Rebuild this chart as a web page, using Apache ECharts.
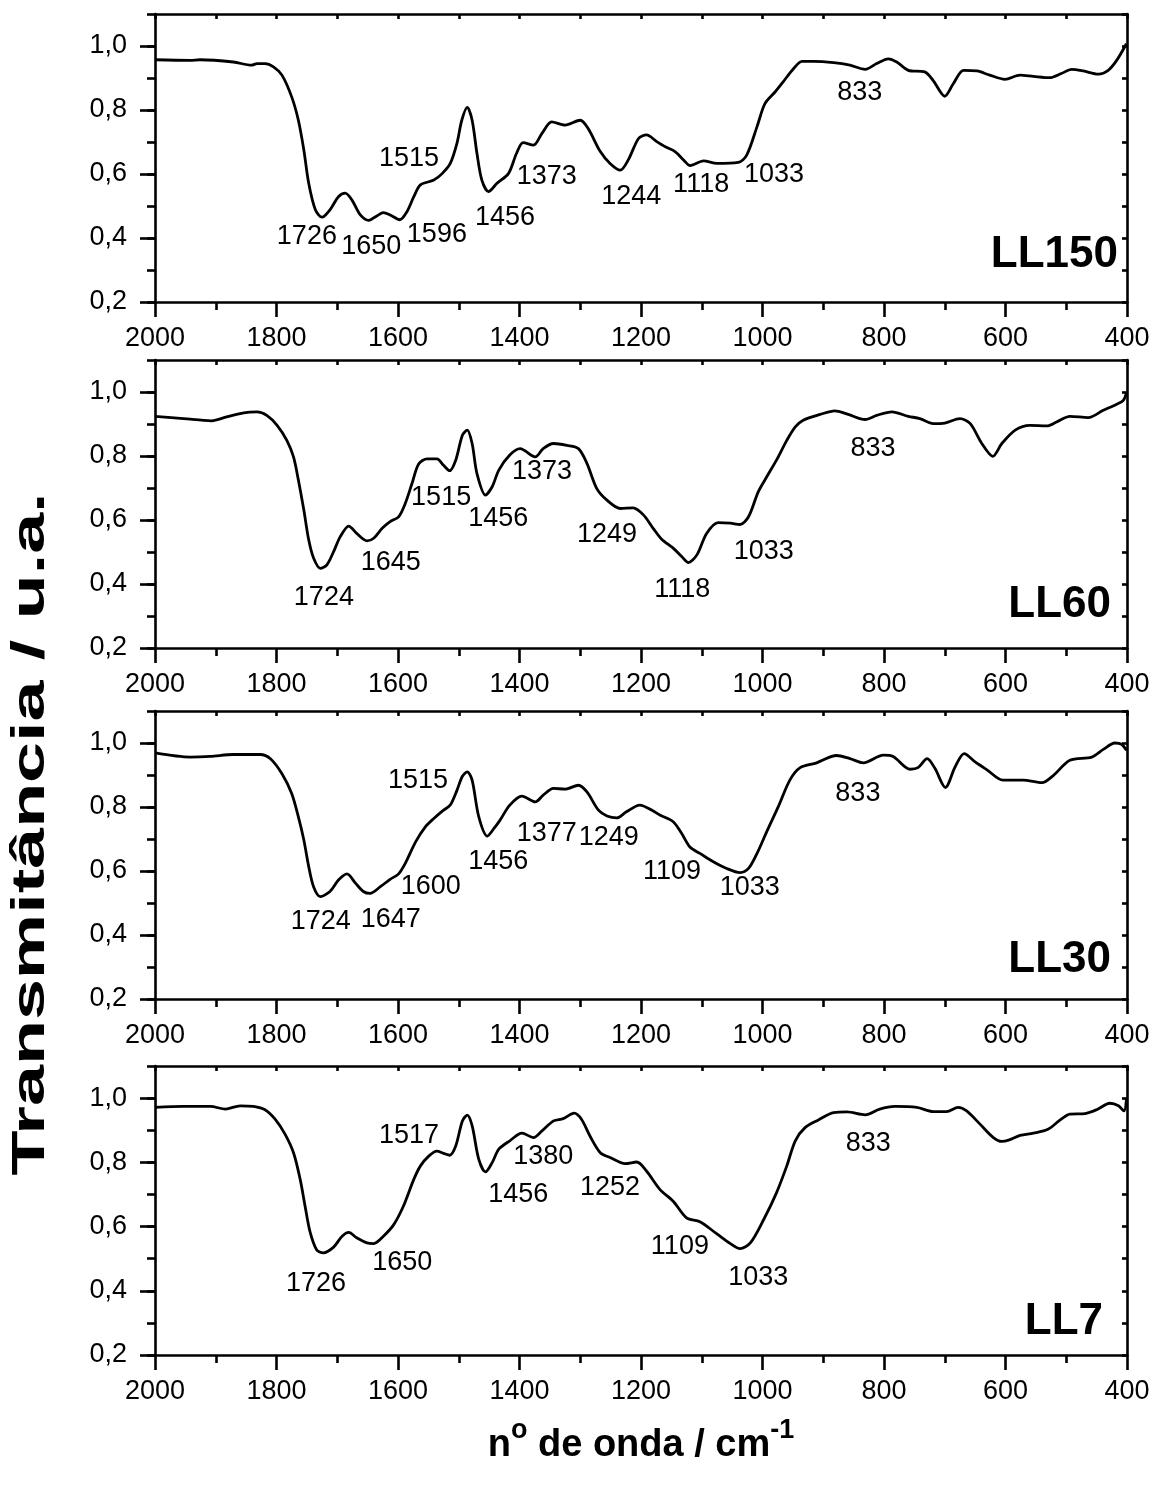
<!DOCTYPE html>
<html><head><meta charset="utf-8">
<script src="https://cdn.jsdelivr.net/npm/echarts@6/dist/echarts.min.js"></script>
<style>html,body{margin:0;padding:0;background:#fff}#c{width:1158px;height:1486px}</style>
</head><body><div id="c"></div>
<script>
// ---- data (wavenumber cm-1, transmittance a.u.) ----
const panelNames = ['LL150', 'LL60', 'LL30', 'LL7'];
const yMajorTicks = [0.2, 0.4, 0.6, 0.8, 1.0];

const LL150 = [[2000,0.957],[1942,0.955],[1926,0.957],[1871,0.950],[1841,0.940],[1832,0.945],[1819,0.945],[1805,0.935],[1791,0.909],[1775,0.841],[1764,0.768],[1755,0.675],[1747,0.571],[1736,0.488],[1725,0.465],[1712,0.488],[1698,0.529],[1687,0.540],[1676,0.519],[1662,0.472],[1648,0.455],[1635,0.469],[1624,0.479],[1613,0.472],[1597,0.457],[1585,0.483],[1574,0.529],[1563,0.566],[1541,0.581],[1527,0.602],[1514,0.633],[1503,0.696],[1495,0.768],[1486,0.808],[1478,0.768],[1470,0.664],[1462,0.581],[1451,0.545],[1437,0.571],[1418,0.602],[1405,0.664],[1394,0.698],[1377,0.690],[1363,0.727],[1347,0.763],[1325,0.753],[1300,0.768],[1287,0.742],[1267,0.670],[1251,0.633],[1234,0.612],[1221,0.644],[1204,0.711],[1191,0.722],[1174,0.701],[1160,0.685],[1144,0.670],[1130,0.644],[1119,0.626],[1097,0.641],[1075,0.633],[1040,0.636],[1026,0.659],[1009,0.748],[996,0.820],[979,0.857],[966,0.888],[949,0.929],[935,0.952],[916,0.952],[883,0.948],[856,0.940],[831,0.927],[812,0.945],[793,0.960],[779,0.950],[760,0.924],[733,0.919],[719,0.892],[700,0.843],[686,0.882],[669,0.924],[647,0.922],[626,0.909],[601,0.896],[576,0.909],[554,0.905],[527,0.901],[508,0.914],[491,0.927],[472,0.922],[447,0.912],[431,0.924],[417,0.955],[401,1.007]];

const LL60 = [[2000,0.924],[1953,0.917],[1907,0.910],[1882,0.922],[1854,0.935],[1832,0.938],[1816,0.927],[1799,0.896],[1783,0.849],[1772,0.797],[1764,0.725],[1755,0.631],[1747,0.538],[1739,0.481],[1728,0.449],[1717,0.460],[1706,0.501],[1695,0.548],[1681,0.581],[1668,0.558],[1651,0.535],[1640,0.543],[1626,0.574],[1613,0.595],[1599,0.610],[1588,0.652],[1577,0.714],[1566,0.775],[1552,0.791],[1536,0.791],[1525,0.771],[1515,0.754],[1505,0.787],[1494,0.865],[1486,0.881],[1478,0.839],[1470,0.745],[1456,0.678],[1445,0.704],[1434,0.756],[1416,0.803],[1399,0.823],[1374,0.797],[1361,0.823],[1344,0.839],[1322,0.833],[1303,0.823],[1289,0.777],[1273,0.699],[1256,0.662],[1234,0.636],[1213,0.638],[1196,0.616],[1180,0.574],[1166,0.540],[1147,0.512],[1133,0.486],[1122,0.467],[1108,0.491],[1092,0.558],[1073,0.592],[1053,0.590],[1037,0.586],[1023,0.610],[1007,0.688],[993,0.735],[977,0.787],[960,0.849],[946,0.891],[933,0.912],[905,0.930],[881,0.941],[859,0.930],[831,0.914],[812,0.927],[787,0.938],[760,0.924],[741,0.917],[719,0.901],[700,0.903],[675,0.917],[658,0.901],[639,0.839],[621,0.799],[606,0.839],[584,0.881],[560,0.896],[532,0.894],[516,0.906],[494,0.924],[464,0.920],[439,0.943],[417,0.962],[406,0.974],[401,0.997]];

const LL30 = [[2000,0.969],[1942,0.956],[1909,0.958],[1871,0.964],[1827,0.964],[1810,0.951],[1791,0.904],[1775,0.842],[1764,0.769],[1755,0.697],[1747,0.614],[1739,0.551],[1728,0.520],[1712,0.536],[1698,0.572],[1684,0.591],[1670,0.562],[1657,0.536],[1646,0.530],[1629,0.551],[1613,0.574],[1599,0.591],[1588,0.624],[1571,0.691],[1555,0.738],[1541,0.764],[1525,0.790],[1514,0.806],[1503,0.852],[1494,0.896],[1486,0.910],[1478,0.884],[1467,0.769],[1453,0.709],[1442,0.733],[1432,0.759],[1416,0.806],[1396,0.834],[1374,0.816],[1361,0.837],[1344,0.858],[1325,0.856],[1303,0.868],[1289,0.847],[1270,0.790],[1256,0.772],[1240,0.766],[1224,0.785],[1202,0.806],[1182,0.790],[1169,0.775],[1147,0.754],[1133,0.717],[1119,0.674],[1103,0.655],[1081,0.629],[1059,0.608],[1037,0.595],[1023,0.608],[1009,0.655],[993,0.723],[974,0.801],[955,0.884],[938,0.923],[911,0.938],[878,0.961],[856,0.951],[834,0.938],[801,0.962],[785,0.958],[757,0.918],[744,0.923],[729,0.951],[716,0.920],[699,0.861],[683,0.925],[668,0.967],[650,0.941],[631,0.917],[604,0.884],[571,0.884],[540,0.876],[521,0.899],[494,0.946],[458,0.956],[439,0.980],[420,1.000],[409,0.996],[401,0.977]];

const LL7 = [[2000,0.971],[1953,0.974],[1909,0.974],[1884,0.966],[1860,0.976],[1838,0.974],[1819,0.964],[1802,0.934],[1786,0.888],[1772,0.830],[1761,0.747],[1753,0.664],[1745,0.585],[1734,0.528],[1723,0.518],[1706,0.536],[1692,0.570],[1681,0.582],[1668,0.565],[1651,0.549],[1640,0.547],[1624,0.570],[1607,0.606],[1591,0.664],[1574,0.747],[1563,0.789],[1549,0.820],[1536,0.835],[1525,0.828],[1515,0.822],[1505,0.851],[1494,0.929],[1486,0.947],[1478,0.914],[1467,0.809],[1456,0.770],[1445,0.799],[1434,0.841],[1416,0.867],[1396,0.891],[1377,0.877],[1363,0.898],[1344,0.929],[1328,0.936],[1310,0.953],[1298,0.934],[1284,0.882],[1267,0.830],[1251,0.815],[1226,0.796],[1207,0.801],[1191,0.773],[1169,0.716],[1147,0.679],[1125,0.627],[1103,0.615],[1075,0.577],[1053,0.547],[1037,0.531],[1020,0.549],[998,0.622],[977,0.705],[960,0.789],[946,0.867],[930,0.908],[908,0.932],[883,0.955],[861,0.957],[831,0.948],[807,0.966],[782,0.974],[746,0.971],[719,0.958],[697,0.958],[678,0.971],[664,0.960],[642,0.919],[620,0.877],[606,0.865],[595,0.869],[576,0.884],[554,0.891],[530,0.903],[510,0.932],[494,0.950],[469,0.952],[450,0.964],[428,0.984],[414,0.976],[405,0.960],[401,0.997]];

// peak annotations: [text, wavenumber, transmittance] (anchor of the text centre)
const LL150_peaks = [['1726',1750,0.404],['1650',1644,0.372],['1596',1536,0.410],['1515',1582,0.647],['1456',1424,0.463],['1373',1355,0.591],['1244',1216,0.528],['1118',1101,0.566],['1033',981,0.597],['833',840,0.856]];
const LL60_peaks = [['1724',1722,0.357],['1645',1612,0.466],['1515',1529,0.669],['1456',1435,0.606],['1373',1363,0.750],['1249',1256,0.553],['1118',1132,0.382],['1033',998,0.500],['833',818,0.824]];
const LL30_peaks = [['1515',1567,0.884],['1724',1727,0.441],['1647',1612,0.447],['1600',1546,0.550],['1456',1435,0.628],['1377',1355,0.718],['1249',1253,0.703],['1109',1149,0.597],['1033',1021,0.547],['833',843,0.843]];
const LL7_peaks = [['1517',1582,0.883],['1726',1735,0.424],['1650',1593,0.487],['1456',1402,0.699],['1380',1361,0.817],['1252',1251,0.721],['1109',1136,0.537],['1033',1007,0.440],['833',826,0.858]];

const spectra = [LL150, LL60, LL30, LL7];
const peaks = [LL150_peaks, LL60_peaks, LL30_peaks, LL7_peaks];

// ---- layout / style ----
const FONT = '"Liberation Sans", Arial, Helvetica, sans-serif';
const BLACK = '#000';
const tops = [14, 360, 711, 1066];
const heights = [288, 288, 288, 289];
const AXW = 2.6;
const lineStyle = {color: BLACK, width: AXW};

const grid = [], xAxis = [], yAxis = [], series = [], graphic = [];
const fmtY = v => (Math.abs(v - 1.1) < 1e-6 ? '' : v.toFixed(1).replace('.', ','));
const fmtX = v => String(v);

spectra.forEach((data, i) => {
  grid.push({left: 155, right: 31, top: tops[i], height: heights[i], containLabel: false});
  const isLast = i === spectra.length - 1;
  xAxis.push({
    gridIndex: i, type: 'value', min: 400, max: 2000, interval: 200, inverse: true, position: 'bottom',
    axisLine: {show: true, onZero: false, lineStyle},
    axisTick: {show: true, inside: false, length: 15, lineStyle},
    minorTick: {show: true, splitNumber: 2, length: 8, lineStyle},
    axisLabel: {show: true, margin: 23, fontSize: 27, color: BLACK, fontFamily: FONT, formatter: fmtX},
    splitLine: {show: false}, minorSplitLine: {show: false},
    name: isLast ? '{b|n}{s|o}{b| de onda / cm}{s|-1}' : '',
    nameLocation: 'middle', nameGap: 62,
    nameTextStyle: {
      rich: {
        b: {fontSize: 38, fontWeight: 'bold', fontFamily: FONT, color: BLACK, lineHeight: 48, verticalAlign: 'bottom'},
        s: {fontSize: 27, fontWeight: 'bold', fontFamily: FONT, color: BLACK, lineHeight: 48, verticalAlign: 'top'}
      }
    }
  });
  xAxis.push({
    gridIndex: i, type: 'value', min: 400, max: 2000, interval: 100, inverse: true, position: 'top',
    axisLine: {show: true, onZero: false, lineStyle},
    axisTick: {show: true, inside: true, length: 5, lineStyle},
    axisLabel: {show: false}, splitLine: {show: false}
  });
  // left: minor ticks every 0.1
  yAxis.push({
    gridIndex: i, type: 'value', min: 0.2, max: 1.1, interval: 0.1, position: 'left',
    axisLine: {show: true, onZero: false, lineStyle},
    axisTick: {show: true, inside: false, length: 8, lineStyle},
    axisLabel: {show: false}, splitLine: {show: false}
  });
  // left: major ticks + labels
  yAxis.push({
    gridIndex: i, type: 'value', min: 0.2, max: 1.1, interval: 0.2, position: 'left',
    axisLine: {show: false, onZero: false},
    axisTick: {show: true, inside: false, length: 15, lineStyle, customValues: yMajorTicks},
    axisLabel: {show: true, margin: 28, fontSize: 27, color: BLACK, fontFamily: FONT, formatter: fmtY, customValues: yMajorTicks},
    splitLine: {show: false}
  });
  // right frame
  yAxis.push({
    gridIndex: i, type: 'value', min: 0.2, max: 1.1, interval: 0.1, position: 'right',
    axisLine: {show: true, onZero: false, lineStyle},
    axisTick: {show: true, inside: true, length: 5, lineStyle},
    axisLabel: {show: false}, splitLine: {show: false}
  });
  series.push({
    type: 'line', xAxisIndex: 2 * i, yAxisIndex: 3 * i, data: data,
    symbol: 'none', showSymbol: false, smooth: 0.3,
    lineStyle: {color: BLACK, width: 2.8}, z: 3
  });
  series.push({
    type: 'scatter', xAxisIndex: 2 * i, yAxisIndex: 3 * i,
    data: peaks[i].map(p => ({name: p[0], value: [p[1], p[2]]})),
    symbolSize: 0, itemStyle: {color: BLACK, opacity: 1},
    label: {show: true, position: 'inside', formatter: '{b}', fontSize: 27, color: BLACK, fontFamily: FONT, opacity: 1},
    z: 4, silent: true
  });
});

// panel names
const nameRight = [1118, 1111, 1111, 1103];
const nameMid = [255, 605, 960, 1322];
panelNames.forEach((n, i) => {
  graphic.push({type: 'text', x: nameRight[i], y: nameMid[i],
    style: {text: n, fontSize: 44, fontWeight: 'bold', fontFamily: FONT, fill: BLACK, align: 'right', verticalAlign: 'middle'}});
});
// y axis title
graphic.push({type: 'text', x: 31, y: 834, rotation: Math.PI / 2, scaleX: 1.6, scaleY: 1,
  style: {text: 'Transmitância / u.a.', fontSize: 46, fontWeight: 'bold', fontFamily: FONT, fill: BLACK, align: 'center', verticalAlign: 'middle'}});

const chart = echarts.init(document.getElementById('c'), null, {renderer: 'canvas'});
chart.setOption({
  animation: false,
  backgroundColor: '#fff',
  grid, xAxis, yAxis, series, graphic
});
</script></body></html>
